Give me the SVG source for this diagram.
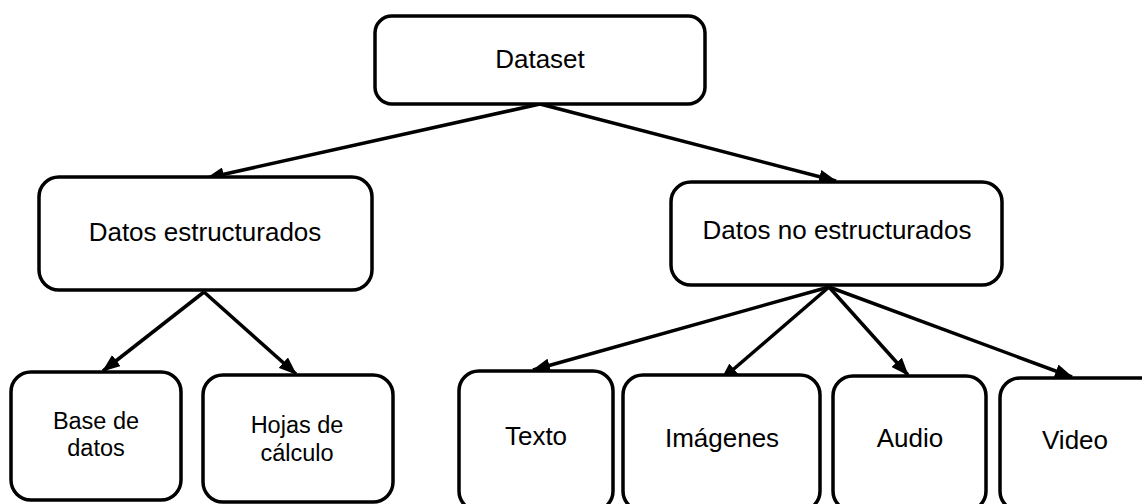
<svg xmlns="http://www.w3.org/2000/svg" width="1142" height="504" viewBox="0 0 1142 504">
  <style>
    .box { fill: #ffffff; stroke: #000000; stroke-width: 3.5; }
    .lbl { font-family: "Liberation Sans", Arial, sans-serif; font-size: 26px; fill: #000000; text-anchor: middle; }
    .sm { font-size: 23.5px; }
    .edge { stroke: #000000; stroke-width: 3.5; fill: none; marker-end: url(#head); }
  </style>
  <defs>
    <marker id="head" markerUnits="userSpaceOnUse" markerWidth="18" markerHeight="14" refX="17" refY="7" orient="auto">
      <path d="M0,0 L18,7 L0,14 z" fill="#000000"/>
    </marker>
  </defs>
  <rect width="1142" height="504" fill="#ffffff"/>

  <g id="connectors">
    <line class="edge" x1="540" y1="104" x2="207" y2="178"/>
    <line class="edge" x1="540" y1="104" x2="836" y2="181"/>
    <line class="edge" x1="204" y1="292" x2="103" y2="371"/>
    <line class="edge" x1="204" y1="292" x2="296" y2="374"/>
    <line class="edge" x1="829" y1="287" x2="533" y2="370"/>
    <line class="edge" x1="829" y1="287" x2="721" y2="380"/>
    <line class="edge" x1="829" y1="287" x2="908" y2="375"/>
    <line class="edge" x1="829" y1="287" x2="1072" y2="377"/>
  </g>

  <g id="dataset">
    <rect class="box" x="375" y="16" width="330" height="88" rx="17"/>
    <text class="lbl" x="540" y="68">Dataset</text>
  </g>
  <g id="estructurados">
    <rect class="box" x="39" y="177" width="333" height="113" rx="20"/>
    <text class="lbl" x="205" y="241">Datos estructurados</text>
  </g>
  <g id="no-estructurados">
    <rect class="box" x="671" y="182" width="331" height="103" rx="20"/>
    <text class="lbl" x="837" y="239">Datos no estructurados</text>
  </g>
  <g id="base-datos">
    <rect class="box" x="11" y="372" width="170" height="128" rx="20"/>
    <text class="lbl sm" x="96" y="429">Base de</text>
    <text class="lbl sm" x="96" y="456">datos</text>
  </g>
  <g id="hojas-calculo">
    <rect class="box" x="203" y="375" width="190" height="127" rx="20"/>
    <text class="lbl sm" x="297" y="433">Hojas de</text>
    <text class="lbl sm" x="297" y="461">cálculo</text>
  </g>
  <g id="texto">
    <rect class="box" x="459" y="371" width="154" height="140" rx="20"/>
    <text class="lbl" x="536" y="445">Texto</text>
  </g>
  <g id="imagenes">
    <rect class="box" x="623" y="375" width="197" height="136" rx="20"/>
    <text class="lbl" x="722" y="447">Imágenes</text>
  </g>
  <g id="audio">
    <rect class="box" x="833" y="376" width="153" height="135" rx="20"/>
    <text class="lbl" x="910" y="447">Audio</text>
  </g>
  <g id="video">
    <rect class="box" x="1000" y="378" width="160" height="133" rx="20"/>
    <text class="lbl" x="1075" y="449">Video</text>
  </g>
</svg>
